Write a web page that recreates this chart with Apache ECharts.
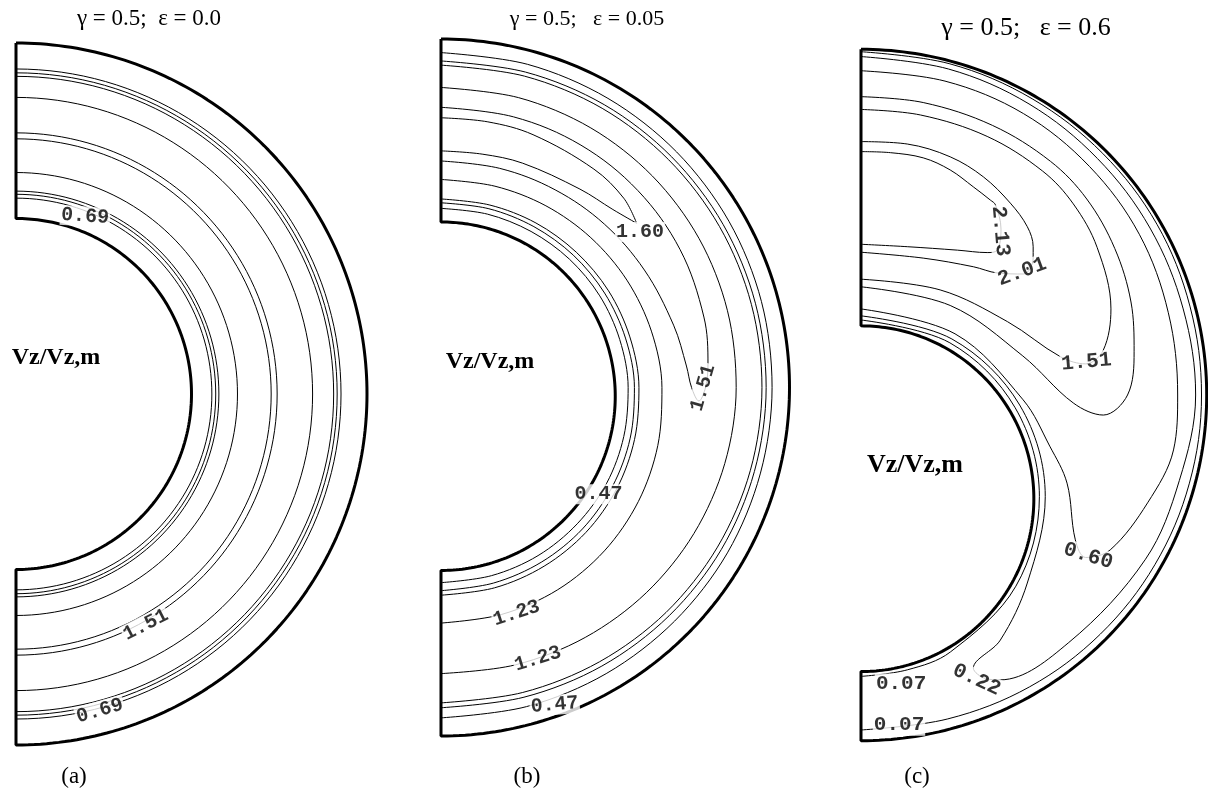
<!DOCTYPE html>
<html>
<head>
<meta charset="utf-8">
<title>Vz/Vz,m contours</title>
<script src="https://cdn.jsdelivr.net/npm/echarts@6/dist/echarts.min.js"></script>
<style>
    html, body { margin: 0; padding: 0; background: #fff; }
    #chart { width: 1208px; height: 794px; }
</style>
</head>
<body>
<div id="chart"></div>
<script type="text/javascript">
    // geometry of the three annuli (radii in units of the outer radius R)
    var GAMMA = 0.5;
    var EPS = [0.0, 0.05, 0.6];
    var titles = ['γ = 0.5;  ε = 0.0', 'γ = 0.5;   ε = 0.05', 'γ = 0.5;   ε = 0.6'];
    var panelNames = ['(a)', '(b)', '(c)'];
    var quantity = 'Vz/Vz,m';

    // (a) concentric: every contour is a circle, r/R
    var ringsA = [0.558, 0.569, 0.578, 0.631, 0.727, 0.744, 0.845, 0.905, 0.915, 0.926];

    // (b) contours running all round, r/R read every 15 deg from the top
    var angB = [0, 15, 30, 45, 60, 75, 90, 105, 120, 135, 150, 165, 180];
    var ringsB = [
        [0.514, 0.515, 0.517, 0.521, 0.526, 0.531, 0.537, 0.543, 0.549, 0.553, 0.557, 0.559, 0.560],
        [0.530, 0.531, 0.533, 0.537, 0.542, 0.548, 0.555, 0.562, 0.568, 0.574, 0.578, 0.581, 0.583],
        [0.541, 0.542, 0.545, 0.549, 0.555, 0.561, 0.568, 0.575, 0.582, 0.588, 0.592, 0.595, 0.596],
        [0.597, 0.598, 0.602, 0.608, 0.616, 0.625, 0.634, 0.644, 0.654, 0.663, 0.670, 0.674, 0.676],
        [0.861, 0.861, 0.860, 0.858, 0.855, 0.851, 0.847, 0.843, 0.838, 0.833, 0.828, 0.824, 0.821],
        [0.925, 0.925, 0.925, 0.924, 0.923, 0.922, 0.921, 0.919, 0.916, 0.913, 0.909, 0.906, 0.905],
        [0.937, 0.937, 0.937, 0.936, 0.935, 0.934, 0.933, 0.931, 0.929, 0.926, 0.923, 0.920, 0.919],
        [0.961, 0.960, 0.958, 0.956, 0.954, 0.952, 0.950, 0.949, 0.949, 0.948, 0.948, 0.948, 0.948]
    ];
    // (b) closed tongues in the wide gap, [angle from top, r/R]
    var tongue151B = [[0, 0.650], [15, 0.651], [30, 0.655], [45, 0.663], [60, 0.674], [75, 0.691], [85, 0.707], [90, 0.719],
        [93, 0.741], [90, 0.759], [85, 0.769], [75, 0.781], [60, 0.792], [45, 0.799], [30, 0.803], [15, 0.804], [0, 0.804]];
    var tongue160B = [[0, 0.679], [10, 0.680], [20, 0.685], [35, 0.695], [44, 0.710], [50, 0.733],
        [44, 0.755], [35, 0.765], [20, 0.772], [10, 0.774], [0, 0.774]];

    // (c) contour lines, [x/R, y/R] about the outer centre
    var c007in = [[0, 0.217], [0.257, 0.151], [0.446, -0.037], [0.516, -0.294], [0.448, -0.553], [0.259, -0.743], [0.134, -0.795], [0, -0.814]];
    var c007out = [[0, 0.993], [0.257, 0.958], [0.495, 0.857], [0.699, 0.699], [0.856, 0.494], [0.952, 0.255], [0.985, 0],
        [0.950, -0.255], [0.850, -0.491], [0.692, -0.692], [0.488, -0.844], [0.251, -0.937], [0, -0.969]];
    var c022 = [[0, 0.229], [0.263, 0.162], [0.459, -0.029], [0.533, -0.294], [0.481, -0.544], [0.403, -0.709], [0.325, -0.790],
        [0.36, -0.82], [0.403, -0.824], [0.601, -0.716], [0.823, -0.475], [0.921, -0.247], [0.968, 0], [0.932, 0.249],
        [0.836, 0.483], [0.684, 0.684], [0.486, 0.842], [0.253, 0.943], [0, 0.979]];
    var c060 = [[0, 0.249], [0.272, 0.177], [0.469, -0.014], [0.546, -0.148], [0.596, -0.255], [0.620, -0.419], [0.65, -0.47],
        [0.721, -0.448], [0.829, -0.312], [0.904, -0.159], [0.916, 0], [0.889, 0.238], [0.805, 0.465], [0.661, 0.661],
        [0.470, 0.814], [0.243, 0.908], [0, 0.938]];
    var c123 = [[0, 0.313], [0.258, 0.259], [0.468, 0.113], [0.614, -0.023], [0.701, -0.058], [0.771, 0], [0.790, 0.125],
        [0.781, 0.269], [0.734, 0.424], [0.653, 0.567], [0.548, 0.676], [0.380, 0.780], [0.180, 0.846], [0, 0.863]];
    var c151 = [[0, 0.335], [0.229, 0.304], [0.424, 0.212], [0.578, 0.110], [0.65, 0.09], [0.701, 0.130], [0.723, 0.249],
        [0.683, 0.427], [0.614, 0.553], [0.525, 0.648], [0.365, 0.748], [0.172, 0.810], [0, 0.826]];
    var c201 = [[0, 0.733], [0.134, 0.726], [0.258, 0.689], [0.354, 0.631], [0.432, 0.555], [0.481, 0.487], [0.498, 0.429],
        [0.498, 0.396], [0.47, 0.35], [0.394, 0.353], [0.325, 0.371], [0.180, 0.396], [0, 0.413]];
    var c213 = [[0, 0.704], [0.085, 0.701], [0.180, 0.686], [0.258, 0.651], [0.325, 0.602], [0.374, 0.564], [0.389, 0.550],
        [0.405, 0.48], [0.394, 0.419], [0.365, 0.412], [0.279, 0.419], [0.134, 0.429], [0, 0.436]];
    var linesC = [c007in, c007out, c022, c060, c123, c151, c201, c213];

    // contour labels: [text, x/R, y/R, rotation]
    var labelsA = [['0.69', 0.197, 0.506, -4], ['1.51', 0.370, -0.658, 27], ['0.69', 0.239, -0.903, 16]];
    var labelsB = [['1.60', 0.571, 0.446, 0], ['1.51', 0.752, -0.001, 74], ['0.47', 0.452, -0.306, 0],
        ['1.23', 0.217, -0.648, 18], ['1.23', 0.278, -0.779, 17], ['0.47', 0.326, -0.911, 5]];
    var labelsC = [['2.13', 0.403, 0.474, -85], ['2.01', 0.466, 0.356, 20], ['1.51', 0.652, 0.095, 5],
        ['0.60', 0.657, -0.466, -17], ['0.22', 0.334, -0.824, -25], ['0.07', 0.116, -0.836, 0], ['0.07', 0.110, -0.955, 0]];

    // layout (pixels)
    var panels = [
        {left: 16, top: 43, R: 351, title: 23, quantity: 24, label: 20},
        {left: 441, top: 39, R: 348.5, title: 22, quantity: 24, label: 20},
        {left: 861, top: 49.3, R: 345.7, title: 26, quantity: 26, label: 21}
    ];

    var D = Math.PI / 180;
    function pol(t, r, off) {
        return [r * Math.sin(t * D), (off || 0) + r * Math.cos(t * D)];
    }

    function wall(eps) {
        var off = -eps * (1 - GAMMA);
        var pts = [], t;
        for (t = 0; t <= 180; t++) pts.push(pol(t, 1));
        for (t = 180; t >= 0; t--) pts.push(pol(t, GAMMA, off));
        pts.push([0, 1]);
        return pts;
    }

    function line(idx, data, smooth, width) {
        return {
            type: 'line', xAxisIndex: idx, yAxisIndex: idx, data: data,
            showSymbol: false, symbol: 'none', smooth: smooth, clip: false, silent: true,
            lineStyle: {color: '#000', width: width || 1}, z: 2
        };
    }

    function labels(idx, list) {
        return {
            type: 'scatter', xAxisIndex: idx, yAxisIndex: idx, symbolSize: 1, z: 10, silent: true,
            itemStyle: {color: 'rgba(0,0,0,0)'},
            label: {
                show: true, position: 'inside', color: '#000',
                fontFamily: 'Liberation Mono', fontWeight: 'bold', fontSize: panels[idx].label,
                backgroundColor: '#fff', padding: [0, 1]
            },
            data: list.map(function (d) {
                return {value: [d[1], d[2]], label: {formatter: d[0], rotate: d[3]}};
            })
        };
    }

    var series = [];
    // (a)
    ringsA.forEach(function (r) {
        var pts = [];
        for (var t = 0; t <= 180; t += 2) pts.push(pol(t, r));
        series.push(line(0, pts, false));
    });
    // (b)
    ringsB.forEach(function (rs) {
        series.push(line(1, angB.map(function (t, i) { return pol(t, rs[i]); }), 0.33));
    });
    [tongue151B, tongue160B].forEach(function (tg) {
        series.push(line(1, tg.map(function (p) { return pol(p[0], p[1]); }), 0.35));
    });
    // (c)
    linesC.forEach(function (c) {
        series.push(line(2, c, 0.35));
    });
    // walls
    EPS.forEach(function (e, i) {
        var s = line(i, wall(e), false, 3);
        s.z = 5;
        series.push(s);
    });
    series.push(labels(0, labelsA), labels(1, labelsB), labels(2, labelsC));

    var grids = [], xAxes = [], yAxes = [];
    panels.forEach(function (p, i) {
        grids.push({left: p.left, top: p.top, width: p.R, height: 2 * p.R});
        xAxes.push({type: 'value', gridIndex: i, min: 0, max: 1, show: false});
        yAxes.push({type: 'value', gridIndex: i, min: -1, max: 1, show: false});
    });

    var titlePos = [[149, 19], [587, 19], [1026, 28]];
    var quantityPos = [[56, 358], [490, 362], [915, 465]];
    var namePos = [[74, 777], [527, 777], [917, 777]];
    var graphic = [];
    function txt(s, pos, font) {
        graphic.push({
            type: 'text', silent: true,
            style: {text: s, x: pos[0], y: pos[1], font: font, fill: '#000',
                textAlign: 'center', textVerticalAlign: 'middle'}
        });
    }
    for (var i = 0; i < 3; i++) {
        txt(titles[i], titlePos[i], panels[i].title + 'px "Liberation Serif"');
        txt(quantity, quantityPos[i], 'bold ' + panels[i].quantity + 'px "Liberation Serif"');
        txt(panelNames[i], namePos[i], '23px "Liberation Serif"');
    }

    var chart = echarts.init(document.getElementById('chart'));
    chart.setOption({
        animation: false,
        backgroundColor: '#fff',
        grid: grids,
        xAxis: xAxes,
        yAxis: yAxes,
        graphic: graphic,
        series: series
    });
</script>
</body>
</html>
